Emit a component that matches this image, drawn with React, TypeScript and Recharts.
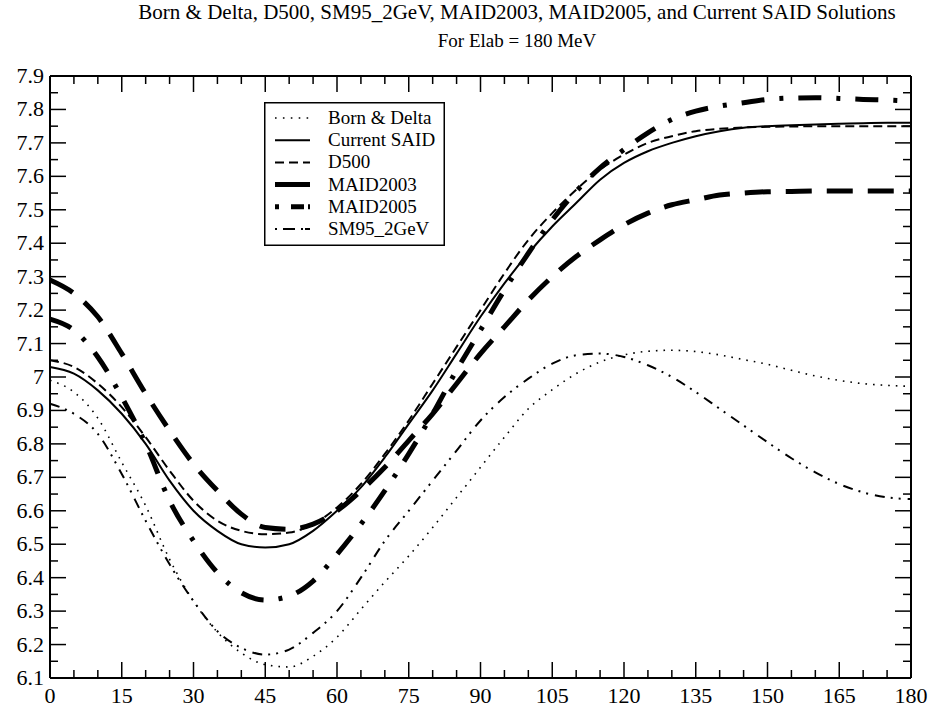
import React from 'react';
import { LineChart, Line, XAxis, YAxis, Legend } from 'recharts';

// scattering angle (deg)
const angles = [
  0, 5, 10, 15, 20, 25, 30, 35, 40, 45, 50, 55, 60, 65, 70, 75, 80, 85, 90,
  95, 100, 105, 110, 115, 120, 125, 130, 135, 140, 145, 150, 155, 160, 165, 170, 175, 180,
];

const bornDelta = [
  6.99, 6.955, 6.877, 6.745, 6.615, 6.455, 6.33, 6.237, 6.175, 6.14, 6.133, 6.165, 6.222, 6.305, 6.387,
  6.465, 6.55, 6.64, 6.73, 6.82, 6.905, 6.962, 7.01, 7.045, 7.066, 7.077, 7.08, 7.076, 7.066, 7.052,
  7.038, 7.02, 7.003, 6.99, 6.98, 6.975, 6.972,
];
const currentSaid = [
  7.03, 7.01, 6.96, 6.89, 6.8, 6.69, 6.6, 6.54, 6.5, 6.49, 6.5, 6.54, 6.6, 6.67, 6.76, 6.86, 6.96,
  7.07, 7.18, 7.28, 7.37, 7.45, 7.52, 7.59, 7.64, 7.675, 7.7, 7.72, 7.735, 7.745, 7.75, 7.753, 7.755,
  7.757, 7.759, 7.76, 7.76,
];
const d500 = [
  7.05, 7.03, 6.98, 6.91, 6.82, 6.72, 6.63, 6.57, 6.54, 6.53, 6.535, 6.56, 6.61, 6.68, 6.77, 6.87,
  6.98, 7.09, 7.2, 7.31, 7.41, 7.49, 7.56, 7.62, 7.665, 7.7, 7.72, 7.735, 7.742, 7.746, 7.748, 7.749,
  7.75, 7.75, 7.75, 7.75, 7.75,
];
const maid2003 = [
  7.29, 7.25, 7.18, 7.07, 6.95, 6.84, 6.74, 6.66, 6.59, 6.55, 6.545, 6.56, 6.6, 6.66, 6.73, 6.81,
  6.89, 6.98, 7.07, 7.15, 7.23, 7.3, 7.36, 7.41, 7.455, 7.49, 7.515, 7.53, 7.544, 7.55, 7.554, 7.555,
  7.556, 7.556, 7.556, 7.556, 7.556,
];
const maid2005 = [
  7.173, 7.14, 7.06, 6.94, 6.8, 6.63, 6.51, 6.415, 6.355, 6.333, 6.345, 6.39, 6.47, 6.56, 6.66, 6.77,
  6.89, 7.02, 7.14, 7.26, 7.37, 7.47, 7.555, 7.625, 7.68, 7.73, 7.77, 7.795, 7.81, 7.82, 7.83, 7.834,
  7.835, 7.833, 7.83, 7.828, 7.825,
];
const sm95 = [
  6.92, 6.89, 6.83, 6.71, 6.57, 6.44, 6.33, 6.24, 6.19, 6.17, 6.185, 6.235, 6.3, 6.4, 6.51, 6.6, 6.69,
  6.78, 6.87, 6.94, 6.995, 7.04, 7.065, 7.07, 7.06, 7.035, 7.0, 6.955, 6.905, 6.855, 6.805, 6.757,
  6.715, 6.68, 6.655, 6.64, 6.635,
];

const xTicks = [
  0, 5, 10, 15, 20, 25, 30, 35, 40, 45, 50, 55, 60, 65, 70, 75, 80, 85, 90,
  95, 100, 105, 110, 115, 120, 125, 130, 135, 140, 145, 150, 155, 160, 165, 170, 175, 180,
];
const yTicks = [
  6.1, 6.15, 6.2, 6.25, 6.3, 6.35, 6.4, 6.45, 6.5, 6.55, 6.6, 6.65, 6.7, 6.75, 6.8, 6.85, 6.9, 6.95,
  7.0, 7.05, 7.1, 7.15, 7.2, 7.25, 7.3, 7.35, 7.4, 7.45, 7.5, 7.55, 7.6, 7.65, 7.7, 7.75, 7.8, 7.85, 7.9,
];

const data = angles.map((a, i) => ({
  angle: a,
  born: bornDelta[i],
  said: currentSaid[i],
  d500: d500[i],
  maid2003: maid2003[i],
  maid2005: maid2005[i],
  sm95: sm95[i],
}));

const series = [
  { key: 'born', name: 'Born & Delta', width: 1.6, dash: '1.6 6', legendDash: '1.6 6.3' },
  { key: 'said', name: 'Current SAID', width: 2, dash: undefined, legendDash: undefined },
  { key: 'd500', name: 'D500', width: 2, dash: '9 5', legendDash: '9 5' },
  { key: 'maid2003', name: 'MAID2003', width: 5, dash: '26 15', legendDash: undefined },
  { key: 'maid2005', name: 'MAID2005', width: 5, dash: '23 15 4 15', legendDash: '4 12 13 4' },
  { key: 'sm95', name: 'SM95_2GeV', width: 2, dash: '10 6 2 6 2 7', legendDash: '2 6 12 6 2' },
];

const FONT = '"Liberation Serif", "Times New Roman", serif';
const MAJ = 16;
const MIN = 8;

const isMajorX = (v: number) => v % 15 === 0;
const isMajorY = (v: number) => Math.round(v * 100) % 10 === 0;
const fmtY = (v: number) => (Math.round(v * 10) % 10 === 0 ? String(Math.round(v)) : v.toFixed(1));

function BottomTick({ x, y, payload }: any) {
  const v = payload.value;
  const major = isMajorX(v);
  return (
    <g>
      <line x1={x} x2={x} y1={y} y2={y - (major ? MAJ : MIN)} stroke="#000" strokeWidth={1.5} />
      {major && (
        <text x={x} y={y + 25} textAnchor="middle" fontSize={22} fontFamily={FONT} fill="#000">
          {v}
        </text>
      )}
    </g>
  );
}

function TopTick({ x, y, payload }: any) {
  const major = isMajorX(payload.value);
  return <line x1={x} x2={x} y1={y} y2={y + (major ? MAJ : MIN)} stroke="#000" strokeWidth={1.5} />;
}

function LeftTick({ x, y, payload }: any) {
  const v = payload.value;
  const major = isMajorY(v);
  return (
    <g>
      <line x1={x} x2={x + (major ? MAJ : MIN)} y1={y} y2={y} stroke="#000" strokeWidth={1.5} />
      {major && (
        <text x={x - 6} y={y + 7} textAnchor="end" fontSize={22} fontFamily={FONT} fill="#000">
          {fmtY(v)}
        </text>
      )}
    </g>
  );
}

function RightTick({ x, y, payload }: any) {
  const major = isMajorY(payload.value);
  return <line x1={x} x2={x - (major ? MAJ : MIN)} y1={y} y2={y} stroke="#000" strokeWidth={1.5} />;
}

function LegendBox() {
  return (
    <svg width={181} height={144} style={{ display: 'block' }}>
      <rect x={0.75} y={0.75} width={179.5} height={142.5} fill="#fff" stroke="#000" strokeWidth={1.5} />
      {series.map((s, i) => {
        const cy = 16 + i * 22.2;
        return (
          <g key={s.key}>
            <line x1={11} x2={46} y1={cy} y2={cy} stroke="#000" strokeWidth={s.width} strokeDasharray={s.legendDash} />
            <text x={64} y={cy + 6} fontSize={19} fontFamily={FONT} fill="#000">
              {s.name}
            </text>
          </g>
        );
      })}
    </svg>
  );
}

const titleStyle: React.CSSProperties = {
  position: 'absolute',
  left: 0,
  width: 1034,
  textAlign: 'center',
  fontFamily: FONT,
  color: '#000',
  whiteSpace: 'nowrap',
};

export default function App() {
  return (
    <div style={{ position: 'absolute', left: 0, top: 0, width: 933, height: 708, background: '#fff', overflow: 'hidden' }}>
      <div style={{ ...titleStyle, top: 0, fontSize: 21 }}>
        Born &amp; Delta, D500, SM95_2GeV, MAID2003, MAID2005, and Current SAID Solutions
      </div>
      <div style={{ ...titleStyle, top: 30, fontSize: 19 }}>For Elab = 180 MeV</div>
      <LineChart width={933} height={708} data={data} margin={{ top: 66, right: 0, bottom: 0, left: 0 }}>
        <XAxis
          dataKey="angle"
          type="number"
          domain={[0, 180]}
          ticks={xTicks}
          interval={0}
          height={30}
          tickSize={0}
          tickMargin={0}
          tickLine={false}
          axisLine={{ stroke: '#000', strokeWidth: 2 }}
          tick={<BottomTick />}
        />
        <XAxis
          xAxisId="top"
          orientation="top"
          dataKey="angle"
          type="number"
          domain={[0, 180]}
          ticks={xTicks}
          interval={0}
          height={10}
          tickSize={0}
          tickMargin={0}
          tickLine={false}
          axisLine={{ stroke: '#000', strokeWidth: 2 }}
          tick={<TopTick />}
        />
        <YAxis
          type="number"
          domain={[6.1, 7.9]}
          ticks={yTicks}
          interval={0}
          width={50}
          tickSize={0}
          tickMargin={0}
          tickLine={false}
          allowDataOverflow
          axisLine={{ stroke: '#000', strokeWidth: 2 }}
          tick={<LeftTick />}
        />
        <YAxis
          yAxisId="right"
          orientation="right"
          type="number"
          domain={[6.1, 7.9]}
          ticks={yTicks}
          interval={0}
          width={22}
          tickSize={0}
          tickMargin={0}
          tickLine={false}
          allowDataOverflow
          axisLine={{ stroke: '#000', strokeWidth: 2 }}
          tick={<RightTick />}
        />
        <Legend
          layout="vertical"
          align="center"
          verticalAlign="middle"
          wrapperStyle={{ left: 264, top: 102, width: 181 }}
          content={<LegendBox />}
        />
        {series.map((s) => (
          <Line
            key={s.key}
            type="monotone"
            dataKey={s.key}
            name={s.name}
            stroke="#000"
            strokeWidth={s.width}
            strokeDasharray={s.dash}
            dot={false}
            activeDot={false}
            isAnimationActive={false}
          />
        ))}
      </LineChart>
    </div>
  );
}
